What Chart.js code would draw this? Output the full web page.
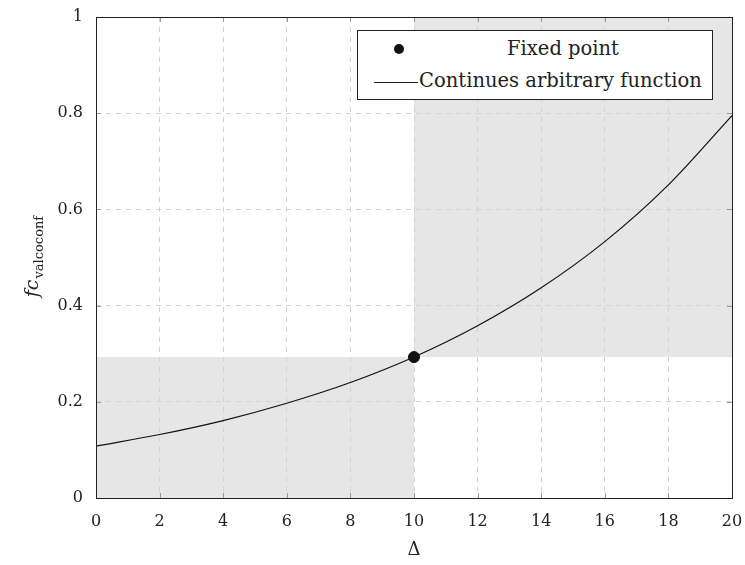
<!DOCTYPE html>
<html>
<head>
<meta charset="utf-8">
<script src="https://cdn.jsdelivr.net/npm/chart.js@4"></script>
<style>
  body { margin: 0; background: #fff; }
  #wrap { position: relative; width: 745px; height: 565px; }
  #legend {
    position: absolute; left: 357px; top: 30px; width: 356px; height: 70px;
    border: 1px solid #222; background: #fff; box-sizing: border-box;
    font-family: "DejaVu Serif", "Liberation Serif", serif; font-size: 19.5px; color: #222;
  }
  .row { position: absolute; left: 0; right: 0; height: 30px; line-height: 30px; }
  .sym { position: absolute; left: 6px; width: 46px; top: 0; height: 30px; }
  .dot { position: absolute; left: 30px; top: 10px; width: 10px; height: 10px; border-radius: 50%; background: #111; }
  .line { position: absolute; left: 10px; top: 16px; width: 44px; border-top: 1px solid #222; }
  .lbl { position: absolute; left: 60px; right: 4px; text-align: center; white-space: nowrap; }
</style>
</head>
<body>
<div id="wrap">
  <canvas id="chart" width="745" height="565"></canvas>
  <div id="legend">
    <div class="row" style="top:3px"><div class="sym"><div class="dot"></div></div><div class="lbl">Fixed point</div></div>
    <div class="row" style="top:35px"><div class="sym"><div class="line"></div></div><div class="lbl" style="left:59px; right:8px">Continues arbitrary function</div></div>
  </div>
</div>
<script>
// values
const deltaValues = [0, 2, 4, 6, 8, 10, 12, 14, 16, 18, 20];
const fcValues = [0.108, 0.132, 0.161, 0.197, 0.240, 0.293, 0.358, 0.437, 0.533, 0.651, 0.795];
const fixedPoint = { x: 10, y: 0.293 };
const xTicks = [0, 2, 4, 6, 8, 10, 12, 14, 16, 18, 20];
const yTicks = [0, 0.2, 0.4, 0.6, 0.8, 1];

const serif = '"DejaVu Serif", "Liberation Serif", serif';

// gray regions + white background, before the grid
const shading = {
  id: 'shading',
  beforeDraw(chart) {
    const { ctx, scales: { x, y } } = chart;
    ctx.save();
    ctx.fillStyle = '#fff';
    ctx.fillRect(0, 0, chart.width, chart.height);
    ctx.fillStyle = '#e6e6e6';
    const px = x.getPixelForValue(fixedPoint.x);
    const py = y.getPixelForValue(fixedPoint.y);
    ctx.fillRect(x.left, py, px - x.left, y.bottom - py);
    ctx.fillRect(px, y.top, x.right - px, py - y.top);
    ctx.restore();
  }
};

// frame, tick marks, axis titles
const frame = {
  id: 'frame',
  afterDraw(chart) {
    const { ctx, scales: { x, y } } = chart;
    ctx.save();
    ctx.strokeStyle = '#999';
    ctx.lineWidth = 1;
    xTicks.forEach(v => {
      const p = Math.round(x.getPixelForValue(v)) + 0.5;
      ctx.beginPath();
      ctx.moveTo(p, y.bottom); ctx.lineTo(p, y.bottom - 5);
      ctx.moveTo(p, y.top); ctx.lineTo(p, y.top + 5);
      ctx.stroke();
    });
    yTicks.forEach(v => {
      const p = Math.round(y.getPixelForValue(v)) + 0.5;
      ctx.beginPath();
      ctx.moveTo(x.left, p); ctx.lineTo(x.left + 5, p);
      ctx.moveTo(x.right, p); ctx.lineTo(x.right - 5, p);
      ctx.stroke();
    });
    ctx.strokeStyle = '#222';
    ctx.strokeRect(Math.round(x.left) + 0.5, Math.round(y.top) + 0.5,
      Math.round(x.right - x.left), Math.round(y.bottom - y.top));

    ctx.fillStyle = '#222';
    ctx.textAlign = 'center';
    ctx.textBaseline = 'middle';
    ctx.font = '18px ' + serif;
    ctx.fillText('\u0394', (x.left + x.right) / 2, 550);

    // y title: f c_valcoconf, rotated
    ctx.translate(32, 257);
    ctx.rotate(-Math.PI / 2);
    ctx.textAlign = 'left';
    ctx.textBaseline = 'alphabetic';
    const main = 'fc';
    const sub = 'valcoconf';
    ctx.font = '13px ' + serif;
    const subW = ctx.measureText(sub).width;
    ctx.font = 'italic 19px ' + serif;
    const mainW = ctx.measureText(main).width;
    const start = -(mainW + subW) / 2;
    ctx.fillText(main, start, 6);
    ctx.font = '13px ' + serif;
    ctx.fillText(sub, start + mainW + 1, 11);
    ctx.restore();
  }
};

// drop the extra room chart.js keeps for overhanging tick labels
const noOverhang = s => {
  s.paddingTop = 0; s.paddingBottom = 0; s.paddingLeft = 0; s.paddingRight = 0;
};

new Chart(document.getElementById('chart'), {
  type: 'scatter',
  data: {
    datasets: [
      {
        label: 'Fixed point',
        data: [fixedPoint],
        pointRadius: 5.5,
        pointBackgroundColor: '#111',
        pointBorderColor: '#111',
        order: 0
      },
      {
        label: 'Continues arbitrary function',
        data: deltaValues.map((d, i) => ({ x: d, y: fcValues[i] })),
        showLine: true,
        borderColor: '#111',
        borderWidth: 1.2,
        pointRadius: 0,
        cubicInterpolationMode: 'monotone',
        order: 1
      }
    ]
  },
  options: {
    responsive: false,
    animation: false,
    layout: { padding: { left: 0, top: 17, right: 13, bottom: 0 } },
    plugins: { legend: { display: false }, tooltip: { enabled: false } },
    scales: {
      x: {
        type: 'linear', min: 0, max: 20,
        afterBuildTicks: s => { s.ticks = xTicks.map(v => ({ value: v })); },
        afterFit: s => { s.height = 67; noOverhang(s); },
        grid: { color: '#d2d2d2', drawTicks: false },
        border: { display: false, dash: [5, 5] },
        ticks: { padding: 14, color: '#222', font: { family: serif, size: 16 }, maxRotation: 0 }
      },
      y: {
        type: 'linear', min: 0, max: 1,
        afterBuildTicks: s => { s.ticks = yTicks.map(v => ({ value: v })); },
        afterFit: s => { s.width = 96; noOverhang(s); },
        grid: { color: '#d2d2d2', drawTicks: false },
        border: { display: false, dash: [5, 5] },
        ticks: { padding: 13, color: '#222', font: { family: serif, size: 16 },
          callback: v => String(v) }
      }
    }
  },
  plugins: [shading, frame]
});
</script>
</body>
</html>
